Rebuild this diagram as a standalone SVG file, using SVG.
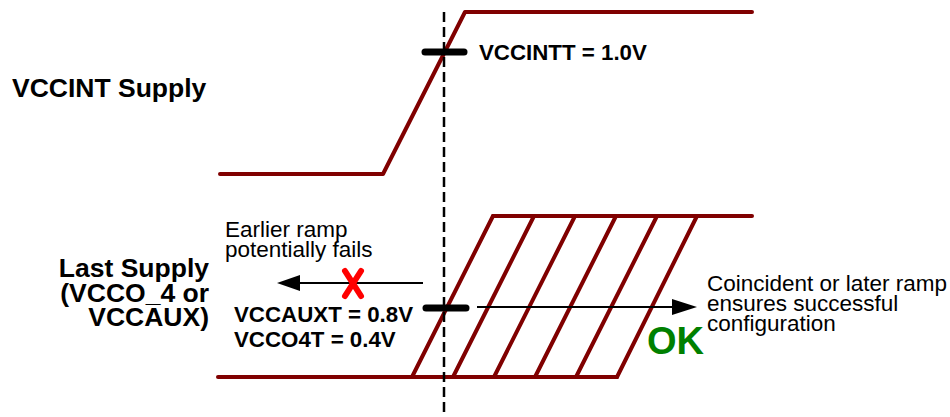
<svg xmlns="http://www.w3.org/2000/svg" width="950" height="417" viewBox="0 0 950 417">
  <style>
    .wave { fill: none; stroke: #800000; stroke-width: 4; stroke-linecap: round; stroke-linejoin: round; }
    .tick { stroke: #000; stroke-width: 7; stroke-linecap: round; }
    .bold { font-family: "Liberation Sans", Arial, sans-serif; font-weight: bold; fill: #000; }
    .big { font-size: 26.5px; }
    .lbl { font-size: 22.3px; }
    .reg { font-family: "Liberation Sans", Arial, sans-serif; font-size: 22.5px; fill: #000; }
    .arrow { stroke: #000; stroke-width: 2; fill: none; }
    .head { fill: #000; }
    .dash { stroke: #000; stroke-width: 2.5; stroke-dasharray: 10 5; fill: none; }
  </style>
  <rect width="950" height="417" fill="#fff"/>

  <g id="vccint-wave">
    <polyline class="wave" points="220,174 383,174 465,12 752,12"/>
  </g>

  <g id="last-supply-wave">
    <line class="wave" x1="218" y1="377" x2="617" y2="377"/>
    <line class="wave" x1="493" y1="216" x2="752" y2="216"/>
    <line class="wave" x1="412" y1="377" x2="493" y2="216"/>
    <line class="wave" x1="453" y1="377" x2="534" y2="216"/>
    <line class="wave" x1="494" y1="377" x2="575" y2="216"/>
    <line class="wave" x1="535" y1="377" x2="616" y2="216"/>
    <line class="wave" x1="576" y1="377" x2="657" y2="216"/>
    <line class="wave" x1="617" y1="377" x2="697" y2="216"/>
  </g>

  <g id="connectors">
    <line class="dash" x1="444" y1="12" x2="444" y2="417"/>
    <line class="arrow" x1="423" y1="283" x2="298" y2="283"/>
    <polygon class="head" points="277,283 300,275 300,291"/>
    <line class="arrow" x1="477" y1="307" x2="675" y2="307"/>
    <polygon class="head" points="697,307 672,299 672,315"/>
  </g>

  <g id="vccint-threshold">
    <line class="tick" x1="425" y1="52" x2="464" y2="52"/>
    <text class="bold lbl" x="479" y="60">VCCINTT = 1.0V</text>
  </g>

  <g id="last-threshold">
    <line class="tick" x1="426" y1="308" x2="466" y2="308"/>
    <text class="bold lbl" x="234" y="322">VCCAUXT = 0.8V</text>
    <text class="bold lbl" x="234" y="347">VCCO4T = 0.4V</text>
  </g>

  <g id="vccint-label">
    <text class="bold big" x="12" y="97">VCCINT Supply</text>
  </g>

  <g id="last-supply-label">
    <text class="bold big" text-anchor="end" x="209" y="277">Last Supply</text>
    <text class="bold big" text-anchor="end" x="209" y="302">(VCCO_4 or</text>
    <text class="bold big" text-anchor="end" x="209" y="326">VCCAUX)</text>
  </g>

  <g id="earlier-fail">
    <text class="reg" x="225" y="237">Earlier ramp</text>
    <text class="reg" x="225" y="257">potentially fails</text>
    <g stroke="#ff0000" stroke-width="6" stroke-linecap="round">
      <line x1="345" y1="271" x2="361" y2="296"/>
      <line x1="361" y1="271" x2="345" y2="296"/>
    </g>
  </g>

  <g id="later-ok">
    <text class="reg" x="707" y="291">Coincident or later ramp</text>
    <text class="reg" x="707" y="311">ensures successful</text>
    <text class="reg" x="707" y="331">configuration</text>
    <text class="bold" x="647" y="354" font-size="38" fill="#008000" style="fill:#008000">OK</text>
  </g>
</svg>
